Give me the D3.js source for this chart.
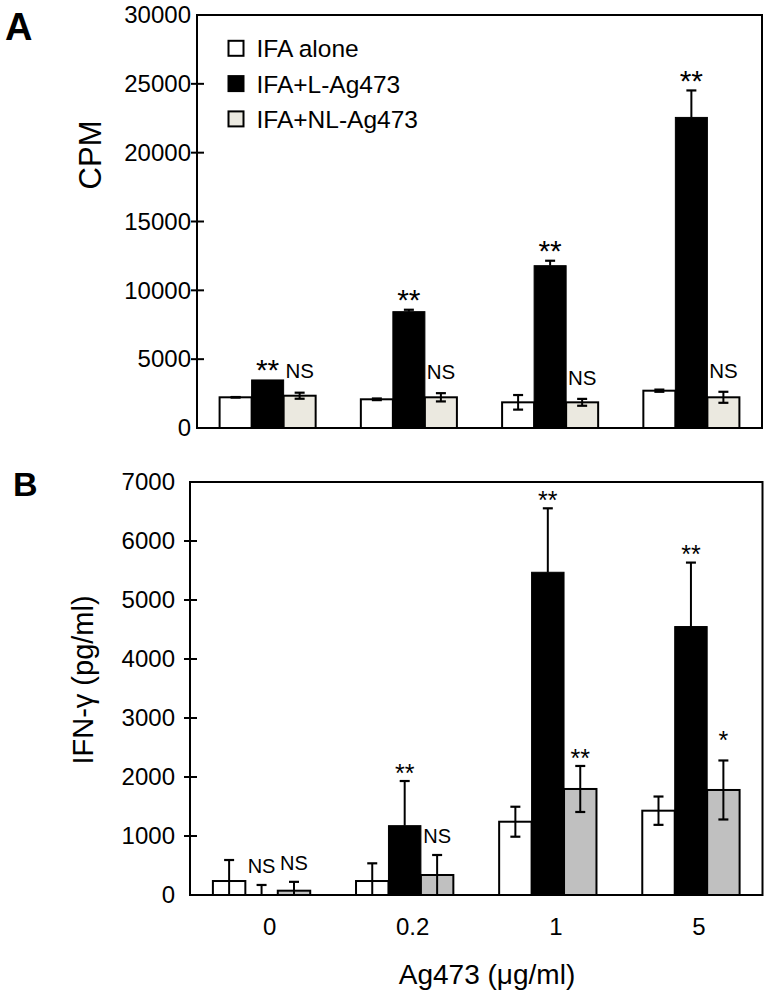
<!DOCTYPE html>
<html>
<head>
<meta charset="utf-8">
<script src="https://cdn.jsdelivr.net/npm/d3@7"></script>
<style>
  html, body { margin: 0; padding: 0; background: #fff; }
  svg { display: block; font-family: "Liberation Sans", Arial, sans-serif; }
</style>
</head>
<body>
<svg id="chart" width="770" height="997"></svg>
<script>
// ---------------- DATA ----------------
const doses = ["0", "0.2", "1", "5"];
const seriesNames = ["IFA alone", "IFA+L-Ag473", "IFA+NL-Ag473"];

// Panel A: proliferation (CPM)
const cpmAlone    = [2230, 2085, 1865, 2710];
const cpmAloneErr = [20, 60, 530, 80];
const cpmL        = [3490, 8450, 11790, 22560];
const cpmLErr     = [0, 140, 360, 1960];
const cpmNL       = [2345, 2230, 1865, 2230];
const cpmNLErr    = [220, 300, 250, 400];
const cpmLSig     = ["**", "**", "**", "**"];
const cpmNLSig    = ["NS", "NS", "NS", "NS"];
const cpmTicks    = [0, 5000, 10000, 15000, 20000, 25000, 30000];

// Panel B: IFN-gamma (pg/ml)
const ifnAlone    = [237, 237, 1242, 1429];
const ifnAloneErr = [356, 300, 254, 240];
const ifnL        = [5, 1175, 5470, 4550];
const ifnLErr     = [165, 757, 1084, 1084];
const ifnNL       = [73, 339, 1797, 1780];
const ifnNLErr    = [150, 339, 390, 500];
const ifnLSig     = ["NS", "**", "**", "**"];
const ifnNLSig    = ["NS", "NS", "**", "*"];
const ifnTicks    = [0, 1000, 2000, 3000, 4000, 5000, 6000, 7000];

// ---------------- DRAW ----------------
const svg = d3.select("#chart");

function panel(cfg) {
  const { left, right, top, bottom, ymax, ticks, values, errs, sigs, fills,
          labelGap, showX, sigStyle } = cfg;
  const g = svg.append("g");
  const x = d3.scaleBand().domain(doses).range([left, right]).paddingInner(0.32).paddingOuter(0.16);
  const xs = d3.scaleBand().domain(seriesNames).range([0, x.bandwidth()]);
  const y = d3.scaleLinear().domain([0, ymax]).range([bottom, top]);

  // frame
  g.append("rect").attr("x", left).attr("y", top).attr("width", right - left).attr("height", bottom - top)
    .attr("fill", "none").attr("stroke", "#000").attr("stroke-width", 2);

  // y axis
  const ya = d3.axisLeft(y).tickValues(ticks).tickSize(0).tickPadding(labelGap).tickFormat(d3.format("d"));
  const yg = g.append("g").attr("transform", `translate(${left},0)`).call(ya);
  yg.select(".domain").remove();
  yg.selectAll("text").attr("font-size", 24).attr("fill", "#000").attr("font-family", "Liberation Sans, Arial, sans-serif");
  g.selectAll(".ytick").data(ticks.slice(1, -1)).enter().append("line")
    .attr("x1", left - 6).attr("x2", left + 7)
    .attr("y1", d => y(d)).attr("y2", d => y(d))
    .attr("stroke", "#000").attr("stroke-width", 2);

  // bars
  seriesNames.forEach((s, si) => {
    doses.forEach((d, di) => {
      const v = values[si][di];
      const x0 = x(d) + xs(s);
      const w = xs.bandwidth();
      g.append("rect")
        .attr("x", x0).attr("y", y(v)).attr("width", w).attr("height", y(0) - y(v))
        .attr("fill", fills[si]).attr("stroke", "#000")
        .attr("stroke-width", si === 1 ? 1 : 2);
      const e = errs[si][di];
      const cx = x0 + w / 2;
      const cap = 5;
      if (e > 0) {
        const hi = v + e;
        const lo = si === 1 ? v : Math.max(0, v - e);
        g.append("line").attr("x1", cx).attr("x2", cx).attr("y1", y(lo)).attr("y2", y(hi))
          .attr("stroke", "#000").attr("stroke-width", 2);
        g.append("line").attr("x1", cx - cap).attr("x2", cx + cap).attr("y1", y(hi)).attr("y2", y(hi))
          .attr("stroke", "#000").attr("stroke-width", 2.2);
        if (si !== 1 && v - e > 0) {
          g.append("line").attr("x1", cx - cap).attr("x2", cx + cap).attr("y1", y(lo)).attr("y2", y(lo))
            .attr("stroke", "#000").attr("stroke-width", 2.2);
        }
      }
      // significance labels
      const sig = si === 1 ? sigs[0][di] : (si === 2 ? sigs[1][di] : null);
      if (sig) {
        const topY = y(v + e);
        const st = sigStyle(sig);
        g.append("text").attr("x", cx).attr("y", topY - st.center + st.base)
          .attr("text-anchor", "middle").attr("font-size", st.size)
          .attr("fill", "#000").text(sig);
      }
    });
  });

  if (showX) {
    const xa = d3.axisBottom(x).tickSize(0).tickPadding(0);
    const xg = g.append("g").attr("transform", `translate(0,${bottom})`).call(xa);
    xg.select(".domain").remove();
    xg.selectAll("text").attr("font-size", 24).attr("fill", "#000")
      .attr("font-family", "Liberation Sans, Arial, sans-serif")
      .attr("dy", 0).attr("y", 40).attr("dx", 8);
  }
  return { x, y };
}

// Panel A
panel({
  left: 197, right: 762, top: 15, bottom: 428, ymax: 30000, ticks: cpmTicks,
  values: [cpmAlone, cpmL, cpmNL], errs: [cpmAloneErr, cpmLErr, cpmNLErr],
  sigs: [cpmLSig, cpmNLSig], fills: ["#ffffff", "#000000", "#ebe9e0"],
  labelGap: 6, showX: false,
  sigStyle: (s) => s === "NS" ? { size: 20.5, center: 21.6, base: 0.36 * 20.5 }
                              : { size: 30, center: 17.5, base: 0.59 * 30 }
});

// Panel B
panel({
  left: 190, right: 762.5, top: 482, bottom: 895, ymax: 7000, ticks: ifnTicks,
  values: [ifnAlone, ifnL, ifnNL], errs: [ifnAloneErr, ifnLErr, ifnNLErr],
  sigs: [ifnLSig, ifnNLSig], fills: ["#ffffff", "#000000", "#c0c0c0"],
  labelGap: 15, showX: true,
  sigStyle: (s) => s === "NS" ? { size: 20, center: 19.3, base: 0.36 * 20 }
                 : s === "*" ? { size: 25, center: 26.7, base: 0.59 * 25 }
                              : { size: 25, center: 14, base: 0.59 * 25 }
});

// Legend (panel A)
const legendFills = ["#ffffff", "#000000", "#ebe9e0"];
const lg = svg.append("g");
seriesNames.forEach((s, i) => {
  const cy = 48.3 + i * 35.3;
  lg.append("rect").attr("x", 228.5).attr("y", cy - 7.5).attr("width", 15).attr("height", 15)
    .attr("fill", legendFills[i]).attr("stroke", "#000").attr("stroke-width", 2);
  lg.append("text").attr("x", 256.5).attr("y", cy + 9).attr("font-size", 24.5).attr("fill", "#000").text(s);
});

// Axis titles and panel letters
svg.append("text").attr("transform", "translate(101,155) rotate(-90)")
  .attr("text-anchor", "middle").attr("font-size", 31).attr("fill", "#000").text("CPM");
svg.append("text").attr("transform", "translate(93,680) rotate(-90)")
  .attr("text-anchor", "middle").attr("font-size", 29).attr("fill", "#000").text("IFN-γ (pg/ml)");
svg.append("text").attr("x", 487).attr("y", 984)
  .attr("text-anchor", "middle").attr("font-size", 28).attr("fill", "#000").text("Ag473 (μg/ml)");
svg.append("text").attr("x", 5).attr("y", 40).attr("font-size", 38).attr("font-weight", "bold").attr("fill", "#000").text("A");
svg.append("text").attr("x", 13).attr("y", 496).attr("font-size", 34).attr("font-weight", "bold").attr("fill", "#000").text("B");
</script>
</body>
</html>
